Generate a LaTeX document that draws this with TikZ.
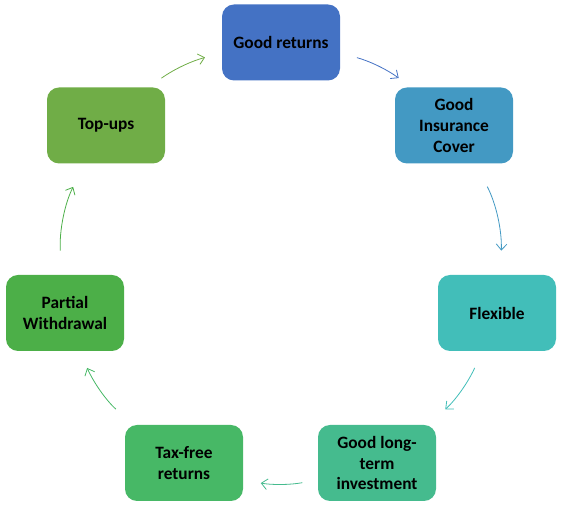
\documentclass[tikz,border=0pt]{standalone}
\usepackage{fontspec}
\setmainfont{Carlito}
\usetikzlibrary{arrows.meta}
\definecolor{cgr}{HTML}{4472C4}
\definecolor{cic}{HTML}{4399C3}
\definecolor{cfl}{HTML}{42BEB9}
\definecolor{clt}{HTML}{45BB8E}
\definecolor{ctf}{HTML}{47B866}
\definecolor{cpw}{HTML}{4CAF48}
\definecolor{ctu}{HTML}{70AD47}
\begin{document}
\begin{tikzpicture}[x=0.75pt,y=-0.75pt,>={Straight Barb[length=4.5pt,width=8pt]},font=\bfseries\fontsize{13}{15.5}\selectfont]
\tikzstyle{b}=[rounded corners=9pt,minimum width=88.5pt,minimum height=57pt,align=center,inner sep=2pt]
\tikzstyle{a}=[->,line width=0.6pt]
\useasboundingbox (0,0) rectangle (565,505);
\node[b,fill=cgr] (gr) at (281,42.5) {Good returns};
\node[b,fill=cic] (ic) at (454,125.5) {Good\\Insurance\\Cover};
\node[b,fill=cfl] (fl) at (497,313) {Flexible};
\node[b,fill=clt] (lt) at (377,463) {Good long-\\term\\investment};
\node[b,fill=ctf] (tf) at (184,463) {Tax-free\\returns};
\node[b,fill=cpw] (pw) at (65,313) {Partial\\Withdrawal};
\node[b,fill=ctu] (tu) at (106,125.5) {Top-ups};
% arrows round the cycle
\draw[a,cgr,shorten <=13pt,shorten >=11.8pt] (gr.-10) to[bend left=10] (ic.138);
\draw[a,cic,shorten <=19.4pt,shorten >=18.1pt] (ic.-61) to[bend left=15] (fl.85);
\draw[a,cfl,shorten <=13.7pt,shorten >=17.5pt] (fl.-111) to[bend left=12] (lt.37);
\draw[a,clt,shorten <=11.7pt,shorten >=13.3pt] (lt.196) to[bend left=10] (tf.-16);
\draw[a,ctf,shorten <=17.5pt,shorten >=13.7pt] (tf.143) to[bend left=12] (pw.-69);
\draw[a,cpw,shorten <=18.1pt,shorten >=19.4pt] (pw.95) to[bend left=15] (tu.-119);
\draw[a,ctu,shorten <=11.8pt,shorten >=13pt] (tu.42) to[bend left=10] (gr.190);
\end{tikzpicture}
\end{document}
